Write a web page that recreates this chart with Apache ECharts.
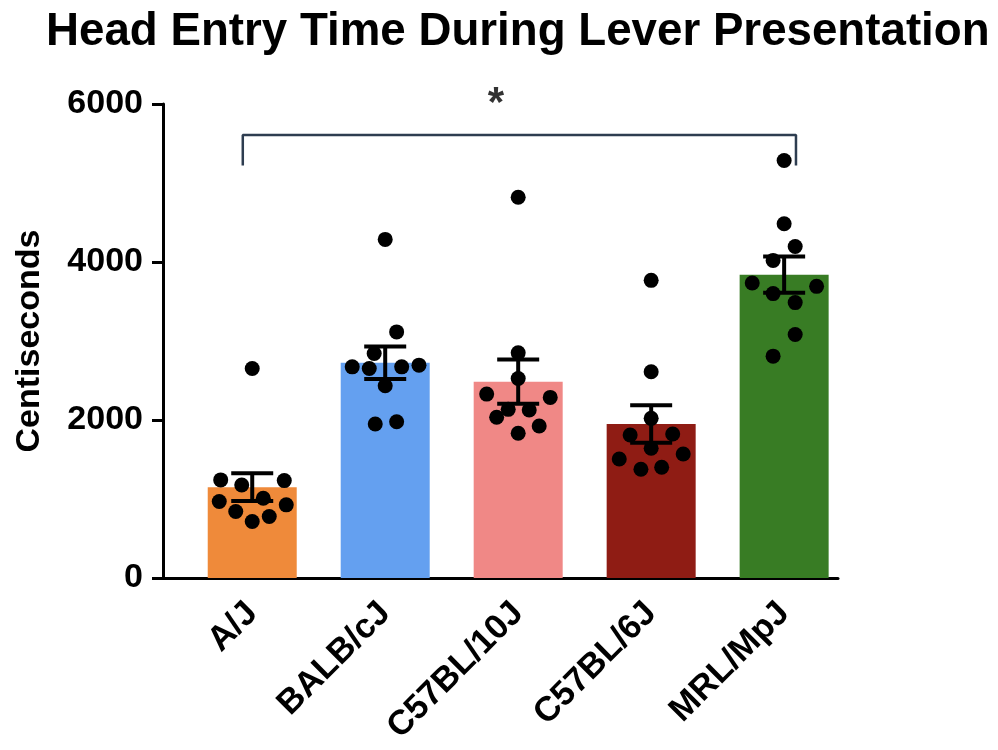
<!DOCTYPE html>
<html>
<head>
<meta charset="utf-8">
<script src="https://cdn.jsdelivr.net/npm/echarts@6/dist/echarts.min.js"></script>
<style>html,body{margin:0;padding:0;background:#fff;}#c{width:998px;height:750px;}</style>
</head>
<body>
<div id="c"></div>
<script>
const categories = ['A/J', 'BALB/cJ', 'C57BL/10J', 'C57BL/6J', 'MRL/MpJ'];
const means = [1150, 2725, 2485, 1950, 3840];
const sems = [175, 206, 280, 238, 229];
const points = [
  [2652, 1242, 1178, 1233, 968, 1010, 926, 841, 778, 715],
  [4286, 3115, 2842, 2673, 2652, 2673, 2694, 2433, 1949, 1978],
  [4820, 2850, 2526, 2328, 2286, 2135, 2126, 2034, 1924, 1832],
  [3768, 2610, 2021, 1810, 1823, 1642, 1507, 1570, 1377, 1402],
  [5284, 4484, 4197, 4020, 3734, 3692, 3600, 3486, 3082, 2808]
];
const jitter = [
  [0, -0.237, -0.079, 0.241, -0.248, 0.083, 0.256, -0.124, 0.128, 0],
  [0, 0.086, -0.083, -0.248, -0.12, 0.124, 0.254, 0, -0.075, 0.086],
  [0, 0, 0, -0.237, 0.241, -0.075, 0.083, -0.162, 0.158, 0],
  [0, 0, 0, -0.158, 0.162, 0, -0.24, 0.241, -0.077, 0.079],
  [0, 0, 0.083, -0.083, -0.24, 0.244, -0.083, 0.083, 0.083, -0.083]
];
const barColors = ['#ef8a3a', '#64a0f0', '#f08886', '#8f1c14', '#387c24'];
const yTicks = [0, 2000, 4000, 6000];
const bracketX = [-0.071, 4.089];
const bracketY = [5220, 5608];
const starX = 1.833;
const signif = '*';

const FONT = 'Liberation Sans, Arial, sans-serif';

const barData = means.map((m, i) => ({ value: [i, m], itemStyle: { color: barColors[i] } }));
const dotData = [];
points.forEach((arr, i) => arr.forEach((v, j) => dotData.push([i + jitter[i][j], v])));
const errData = means.map((m, i) => [i, m - sems[i], m + sems[i]]);
const bracketData = [
  [bracketX[0], bracketY[0]], [bracketX[0], bracketY[1]],
  [bracketX[1], bracketY[1]], [bracketX[1], bracketY[0]]
];

const chart = echarts.init(document.getElementById('c'), null, { renderer: 'canvas' });
chart.setOption({
  animation: false,
  backgroundColor: '#fff',
  title: {
    text: 'Head Entry Time During Lever Presentation',
    left: 41, top: 4,
    textStyle: { fontFamily: FONT, fontWeight: 'bold', fontSize: 45.7, color: '#000' }
  },
  grid: { left: 163, right: 160, top: 104, bottom: 172, containLabel: false },
  xAxis: {
    type: 'value',
    min: -0.671, max: 4.405,
    splitLine: { show: false },
    axisLine: { show: true, onZero: false, lineStyle: { color: '#000', width: 3 } },
    axisTick: { show: false },
    axisLabel: {
      show: true,
      customValues: [0, 1, 2, 3, 4],
      formatter: v => categories[Math.round(v)] || '',
      rotate: 45,
      margin: 30,
      fontFamily: FONT, fontWeight: 'bold', fontSize: 34.5, color: '#000'
    }
  },
  yAxis: {
    type: 'value',
    min: yTicks[0], max: yTicks[yTicks.length - 1], interval: 2000,
    name: 'Centiseconds',
    nameLocation: 'middle', nameRotate: 90, nameGap: 116,
    nameTextStyle: { fontFamily: FONT, fontWeight: 'bold', fontSize: 34, color: '#000' },
    splitLine: { show: false },
    axisLine: { show: true, onZero: false, lineStyle: { color: '#000', width: 3 } },
    axisTick: { show: true, length: 11, lineStyle: { color: '#000', width: 3 } },
    axisLabel: {
      margin: 20, formatter: v => String(v),
      fontFamily: FONT, fontWeight: 'bold', fontSize: 34, color: '#000'
    }
  },
  series: [
    { type: 'bar', data: barData, barWidth: 89, z: 2 },
    { type: 'scatter', data: dotData, symbolSize: 15, itemStyle: { color: '#000', opacity: 1 }, z: 3 },
    {
      type: 'custom', z: 4, data: errData,
      renderItem: (params, api) => {
        const x = api.value(0);
        const lo = api.coord([x, api.value(1)]);
        const hi = api.coord([x, api.value(2)]);
        const hw = 21;
        const st = { stroke: '#000', lineWidth: 4 };
        return {
          type: 'group', children: [
            { type: 'line', shape: { x1: lo[0], y1: lo[1], x2: hi[0], y2: hi[1] }, style: st },
            { type: 'line', shape: { x1: hi[0] - hw, y1: hi[1], x2: hi[0] + hw, y2: hi[1] }, style: st },
            { type: 'line', shape: { x1: lo[0] - hw, y1: lo[1], x2: lo[0] + hw, y2: lo[1] }, style: st }
          ]
        };
      }
    },
    {
      type: 'line', data: bracketData, symbol: 'none', z: 5,
      lineStyle: { color: '#2e3d50', width: 2.5 }, clip: false
    },
    {
      type: 'scatter', data: [[starX, bracketY[1]]], symbolSize: 0, clip: false, z: 5,
      label: {
        show: true, formatter: signif, position: 'top', distance: 10,
        fontFamily: FONT, fontWeight: 'bold', fontSize: 42, color: '#000'
      }
    }
  ]
});
</script>
</body>
</html>
